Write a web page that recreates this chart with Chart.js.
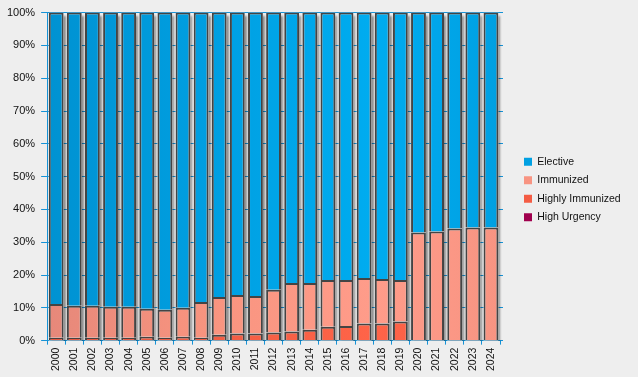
<!DOCTYPE html>
<html>
<head>
<meta charset="utf-8">
<script src="https://cdn.jsdelivr.net/npm/chart.js@4/dist/chart.umd.min.js"></script>
<style>
  html, body { margin: 0; padding: 0; background: #eeeeee; }
  #wrap { width: 638px; height: 377px; }
</style>
</head>
<body>
<div id="wrap"><canvas id="chart"></canvas></div>
<script>
// ===== DATA (percent of cases per year) =====
const years = ["2000","2001","2002","2003","2004","2005","2006","2007","2008","2009","2010","2011","2012",
               "2013","2014","2015","2016","2017","2018","2019","2020","2021","2022","2023","2024"];

const highUrgency      = [0,0,0,0,0,0,0,0,0,0,0,0,0,0,0,0,0,0,0,0,0,0,0,0,0];
const highlyImmunized  = [0.9,0.9,0.9,0.9,0.9,1.2,0.9,1.2,0.9,1.8,2.2,2.2,2.5,2.8,3.3,4.2,4.5,5.2,5.2,5.8,0,0,0,0,0];
const immunized        = [10.3,9.7,9.7,9.4,9.4,8.5,8.5,8.8,10.9,11.5,11.7,11.4,13.0,14.8,14.3,14.3,14.0,13.9,13.6,12.7,33.0,33.3,34.2,34.5,34.5];
const elective         = [88.8,89.4,89.4,89.7,89.7,90.3,90.6,90.0,88.2,86.7,86.1,86.4,84.5,82.4,82.4,81.5,81.5,80.9,81.2,81.5,67.0,66.7,65.8,65.5,65.5];

const yTicks = [0,10,20,30,40,50,60,70,80,90,100];

// ===== STYLE =====
const FONT = "'Liberation Sans', Arial, sans-serif";
const AXIS_BLUE = "#1692d6";
const BORDER = "#444444";

// horizontal shading across the plot, like the original bevel look
function shade(stops, solid) {
  return (ctx) => {
    const chart = ctx.chart;
    const a = chart.chartArea;
    if (!a || ctx.type !== "data") return solid;
    const g = chart.ctx.createLinearGradient(a.left, 0, a.right, 0);
    stops.forEach(([p, c]) => g.addColorStop(p, c));
    return g;
  };
}

const electiveFill  = shade([[0, "#0092d2"], [0.72, "#00acf0"], [1, "#00a0e2"]], "#0095d8");
const immunizedFill = shade([[0, "#e6887a"], [0.35, "#f8947f"], [0.72, "#ff9c8a"], [1, "#f89482"]], "#f08878");
const highlyFill    = shade([[0, "#e4563f"], [0.72, "#ff6448"], [1, "#f45c44"]], "#f05a44");
const urgencyFill   = "#a0004e";

// ===== SHADOW BEHIND EACH STACK =====
const barShadow = {
  id: "barShadow",
  beforeDatasetsDraw(chart) {
    const { ctx, chartArea: a } = chart;
    const topBars = chart.getDatasetMeta(chart.data.datasets.length - 1).data;
    const base = chart.scales.y.getPixelForValue(0);
    ctx.save();
    ctx.beginPath();
    ctx.rect(a.left, a.top, a.right - a.left + 6, a.bottom - a.top);
    ctx.clip();
    ctx.shadowColor = "rgba(0,0,0,0.4)";
    ctx.shadowBlur = 2;
    ctx.shadowOffsetX = 2;
    ctx.shadowOffsetY = 3;
    ctx.fillStyle = "#eeeeee";
    topBars.forEach(bar => {
      const { x, y, width } = bar.getProps(["x", "y", "width"], true);
      ctx.fillRect(x - width / 2, y, width, base - y);
    });
    ctx.restore();
  }
};

// ===== LEGEND BOX: widen clip to canvas edge, nudge up a little =====
const legendFit = {
  id: "legendFit",
  afterLayout(chart) {
    const l = chart.legend;
    l.right = chart.width;
    l.width = l.right - l.left;
    l.top -= 3;
    l.bottom -= 3;
  }
};

const common = { borderColor: BORDER, borderWidth: 2, barPercentage: 0.82, categoryPercentage: 1 };

new Chart(document.getElementById("chart"), {
  type: "bar",
  data: {
    labels: years,
    datasets: [
      { label: "High Urgency",      data: highUrgency,     backgroundColor: urgencyFill,   ...common },
      { label: "Highly Immunized",  data: highlyImmunized, backgroundColor: highlyFill,    ...common },
      { label: "Immunized",         data: immunized,       backgroundColor: immunizedFill, ...common },
      { label: "Elective",          data: elective,        backgroundColor: electiveFill,  ...common },
    ],
  },
  options: {
    responsive: true,
    maintainAspectRatio: false,
    animation: false,
    layout: { padding: { top: 11, left: 1, right: 19, bottom: 3 } },
    plugins: {
      tooltip: { enabled: false },
      legend: {
        position: "right",
        reverse: true,
        labels: {
          font: { family: FONT, size: 10.5 },
          color: "#111",
          boxWidth: 8,
          boxHeight: 8,
          padding: 8,
          generateLabels: (chart) =>
            Chart.defaults.plugins.legend.labels.generateLabels(chart).map(l => ({ ...l, lineWidth: 0 })),
        },
      },
    },
    scales: {
      x: {
        stacked: true,
        offset: true,
        grid: { display: true, drawOnChartArea: false, offset: true, color: AXIS_BLUE, tickLength: 4, tickColor: AXIS_BLUE },
        border: { display: true, color: AXIS_BLUE, width: 1 },
        ticks: { font: { family: FONT, size: 10.5 }, color: "#111", minRotation: 90, maxRotation: 90, padding: 3, autoSkip: false },
      },
      y: {
        stacked: true,
        min: 0,
        max: 100,
        afterBuildTicks: (s) => { s.ticks = yTicks.map(v => ({ value: v })); },
        grid: { color: AXIS_BLUE, tickColor: AXIS_BLUE, tickLength: 6, borderDash: [4, 4] },
        border: { display: true, color: AXIS_BLUE, width: 1 },
        ticks: { font: { family: FONT, size: 11 }, color: "#111", padding: 6, callback: v => v + "%" },
      },
      y2: {
        position: "right",
        min: 0,
        max: 100,
        afterBuildTicks: (s) => { s.ticks = yTicks.map(v => ({ value: v })); },
        afterFit: (s) => { s.width = 16; },
        grid: { drawOnChartArea: false, color: AXIS_BLUE, tickColor: AXIS_BLUE, tickLength: 3 },
        border: { display: false },
        ticks: { display: false },
      },
    },
  },
  plugins: [barShadow, legendFit],
});
</script>
</body>
</html>
